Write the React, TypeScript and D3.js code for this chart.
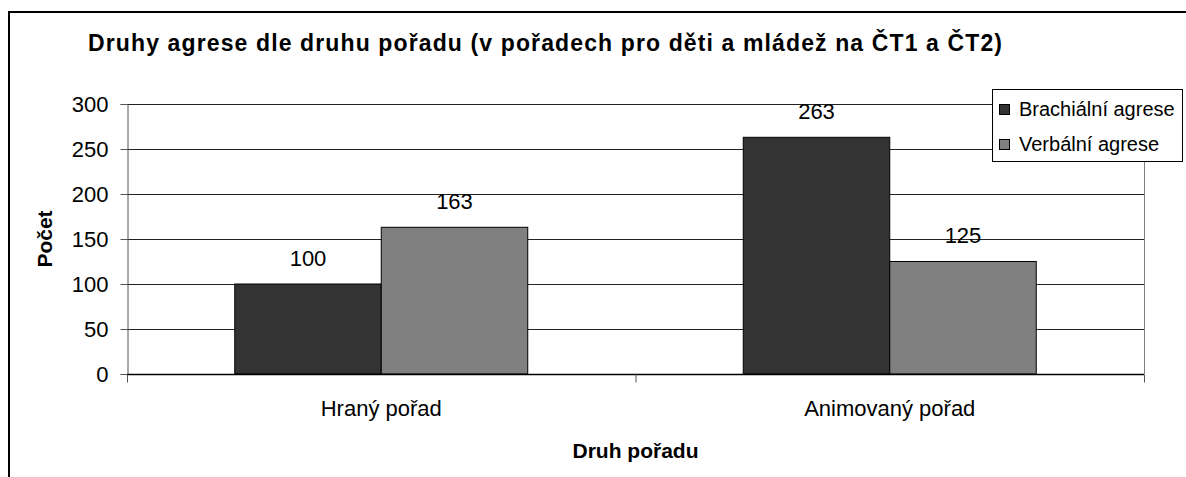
import React, { useRef, useEffect } from 'react';
import * as d3 from 'd3';

const categories = ['Hraný pořad', 'Animovaný pořad'];
const seriesNames = ['Brachiální agrese', 'Verbální agrese'];
const brachialni = [100, 263];
const verbalni = [163, 125];
const yTicks = [0, 50, 100, 150, 200, 250, 300];
const colors = ['#333333', '#808080'];

const App = () => {
    const chart = useRef<SVGSVGElement>(null);

    useEffect(() => {
        const width = 1186;
        const height = 477;
        const margin = { left: 127, right: 1144, top: 104, bottom: 374 };
        const font = '"Liberation Sans", Arial, sans-serif';

        const svg = d3.select(chart.current);
        svg.selectAll('*').remove();
        svg.attr('width', width).attr('height', height);

        svg.append('rect').attr('width', width).attr('height', height).attr('fill', '#fff');

        // outer frame, only top and left edges fall inside the picture
        svg.append('rect')
            .attr('x', 9).attr('y', 12)
            .attr('width', 1300).attr('height', 600)
            .attr('fill', 'none').attr('stroke', '#000').attr('stroke-width', 2);

        svg.append('text')
            .attr('x', 88).attr('y', 51)
            .attr('font-family', font).attr('font-weight', 'bold').attr('font-size', 23)
            .attr('textLength', 914).attr('lengthAdjust', 'spacing')
            .text('Druhy agrese dle druhu pořadu (v pořadech pro děti a mládež na ČT1 a ČT2)');

        const y = d3.scaleLinear().domain([0, 300]).range([margin.bottom, margin.top]);
        const x0 = d3.scaleBand().domain(categories).range([margin.left, margin.right]).padding(0);
        const x1 = d3.scaleBand().domain(seriesNames).range([0, x0.bandwidth()])
            .paddingInner(0).paddingOuter(0.7355);

        // gridlines
        svg.append('g').selectAll('line').data(yTicks.slice(1)).enter().append('line')
            .attr('x1', margin.left).attr('x2', margin.right)
            .attr('y1', d => Math.round(y(d)) + 0.5).attr('y2', d => Math.round(y(d)) + 0.5)
            .attr('stroke', '#222').attr('stroke-width', 1);

        // right plot border
        svg.append('line')
            .attr('x1', margin.right + 0.5).attr('x2', margin.right + 0.5)
            .attr('y1', margin.top).attr('y2', margin.bottom)
            .attr('stroke', '#808080');

        const data = categories.map((c, i) => ({ cat: c, vals: [brachialni[i], verbalni[i]] }));

        const groups = svg.append('g').selectAll('g').data(data).enter().append('g')
            .attr('transform', d => `translate(${x0(d.cat)},0)`);

        groups.selectAll('rect').data(d => d.vals.map((v, j) => ({ name: seriesNames[j], v, j })))
            .enter().append('rect')
            .attr('x', d => x1(d.name))
            .attr('y', d => y(d.v))
            .attr('width', x1.bandwidth())
            .attr('height', d => margin.bottom - y(d.v))
            .attr('fill', d => colors[d.j])
            .attr('stroke', '#000').attr('stroke-width', 1);

        groups.selectAll('text').data(d => d.vals.map((v, j) => ({ name: seriesNames[j], v })))
            .enter().append('text')
            .attr('x', d => x1(d.name) + x1.bandwidth() / 2)
            .attr('y', d => y(d.v) - 18.5)
            .attr('text-anchor', 'middle')
            .attr('font-family', font).attr('font-size', 22)
            .text(d => d.v);

        // y axis
        const yAxis = svg.append('g')
            .attr('transform', `translate(${margin.left + 0.5},0)`)
            .call(d3.axisLeft(y).tickValues(yTicks).tickSize(7).tickPadding(12));
        yAxis.select('.domain').attr('stroke', '#555');
        yAxis.selectAll('.tick line').attr('stroke', '#555');
        yAxis.selectAll('text').attr('font-family', font).attr('font-size', 22).attr('fill', '#000');

        // x axis
        const xAxis = svg.append('g').attr('transform', `translate(0,${margin.bottom + 0.5})`);
        xAxis.append('line')
            .attr('x1', margin.left).attr('x2', margin.right)
            .attr('stroke', '#000').attr('stroke-width', 1.5);
        const bounds = [margin.left, ...categories.map(c => (x0(c) as number) + x0.bandwidth())];
        xAxis.selectAll('.xt').data(bounds).enter().append('line')
            .attr('x1', d => d + 0.5).attr('x2', d => d + 0.5)
            .attr('y1', 0).attr('y2', 8)
            .attr('stroke', '#555');
        xAxis.selectAll('text').data(categories).enter().append('text')
            .attr('x', d => (x0(d) as number) + x0.bandwidth() / 2)
            .attr('y', 41)
            .attr('text-anchor', 'middle')
            .attr('font-family', font).attr('font-size', 22)
            .text(d => d);

        svg.append('text')
            .attr('x', (margin.left + margin.right) / 2).attr('y', 458)
            .attr('text-anchor', 'middle')
            .attr('font-family', font).attr('font-weight', 'bold').attr('font-size', 21)
            .text('Druh pořadu');

        svg.append('text')
            .attr('transform', `translate(52,${(margin.top + margin.bottom) / 2}) rotate(-90)`)
            .attr('text-anchor', 'middle')
            .attr('font-family', font).attr('font-weight', 'bold').attr('font-size', 21)
            .text('Počet');

        // legend
        const legend = svg.append('g');
        legend.append('rect')
            .attr('x', 992.5).attr('y', 89.5).attr('width', 190).attr('height', 72)
            .attr('fill', '#fff').attr('stroke', '#000');
        const items = legend.selectAll('g.item').data(seriesNames).enter().append('g')
            .attr('transform', (d, i) => `translate(999.5,${109.5 + i * 35})`);
        items.append('rect')
            .attr('x', 0).attr('y', -5).attr('width', 10).attr('height', 10)
            .attr('fill', (d, i) => colors[i]).attr('stroke', '#000');
        items.append('text')
            .attr('x', 19.5).attr('y', 6)
            .attr('font-family', font).attr('font-size', 20)
            .text(d => d);
    }, []);

    return (
        <svg ref={chart} style={{ position: 'absolute', left: 0, top: 0 }}></svg>
    );
};

export default App;
